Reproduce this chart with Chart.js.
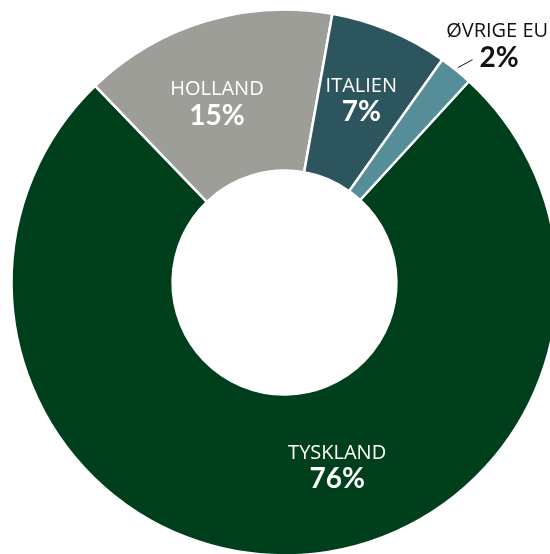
<!DOCTYPE html>
<html>
<head>
<meta charset="utf-8">
<script src="https://cdn.jsdelivr.net/npm/chart.js@4/dist/chart.umd.min.js"></script>
<style>
  html, body { margin: 0; padding: 0; background: #fff; overflow: hidden; }
  #wrap { position: absolute; left: 0; top: 0; width: 569px; height: 565px; }
</style>
</head>
<body>
<div id="wrap"><canvas id="export-share" width="569" height="565"></canvas></div>
<script>
// andel af eksporten pr. land
const countries = ['TYSKLAND', 'HOLLAND', 'ITALIEN', 'ØVRIGE EU'];
const shares = [76, 15, 7, 2];
const colors = ['#003f1c', '#9e9e98', '#2d555e', '#558d98'];

// label placering: vinkel-justering (grader) fra midten af buen + radius i px
const labelPlace = [
  { shift: -15.3, r: 191, inside: true },
  { shift: -3.7, r: 192, inside: true },
  { shift: 0, r: 199, inside: true },
  { shift: 2.9, r: 319, inside: false },
];

const sliceLabels = {
  id: 'sliceLabels',
  afterDatasetsDraw(chart) {
    const ctx = chart.ctx;
    const arcs = chart.getDatasetMeta(0).data;
    ctx.save();
    ctx.textAlign = 'center';
    ctx.textBaseline = 'middle';
    arcs.forEach((arc, i) => {
      const { x, y, startAngle, endAngle, outerRadius } = arc.getProps(['x', 'y', 'startAngle', 'endAngle', 'outerRadius'], true);
      const mid = (startAngle + endAngle) / 2;
      const p = labelPlace[i];
      const a = mid + p.shift * Math.PI / 180;
      const lx = x + Math.cos(a) * p.r;
      const ly = y + Math.sin(a) * p.r;
      const pct = shares[i] + '%';
      const px = lx + (p.inside ? 0 : 2);

      ctx.fillStyle = p.inside ? '#ffffff' : '#111111';
      ctx.font = '400 20px "Open Sans"';
      ctx.fillText(countries[i], lx, ly - 13);
      ctx.font = '700 28px Lato';
      ctx.fillText(pct, px, ly + 13);

      if (!p.inside) {
        // lille streg fra buen hen til procent-tallet
        const w = ctx.measureText(pct).width;
        ctx.strokeStyle = '#111';
        ctx.lineWidth = 1;
        ctx.beginPath();
        ctx.moveTo(x + Math.cos(mid) * (outerRadius + 3), y + Math.sin(mid) * (outerRadius + 3));
        ctx.lineTo(px - w / 2 - 7, ly + 15);
        ctx.stroke();
      }
    });
    ctx.restore();
  }
};

new Chart(document.getElementById('export-share'), {
  type: 'doughnut',
  data: {
    labels: countries,
    datasets: [{
      data: shares,
      backgroundColor: colors,
      borderColor: '#ffffff',
      borderWidth: 2.5,
    }],
  },
  options: {
    responsive: false,
    animation: false,
    devicePixelRatio: 1,
    radius: 273,
    cutout: '41%',
    rotation: 42.5,
    layout: { padding: 0 },
    plugins: {
      legend: { display: false },
      tooltip: { enabled: false },
    },
  },
  plugins: [sliceLabels],
});
</script>
</body>
</html>
